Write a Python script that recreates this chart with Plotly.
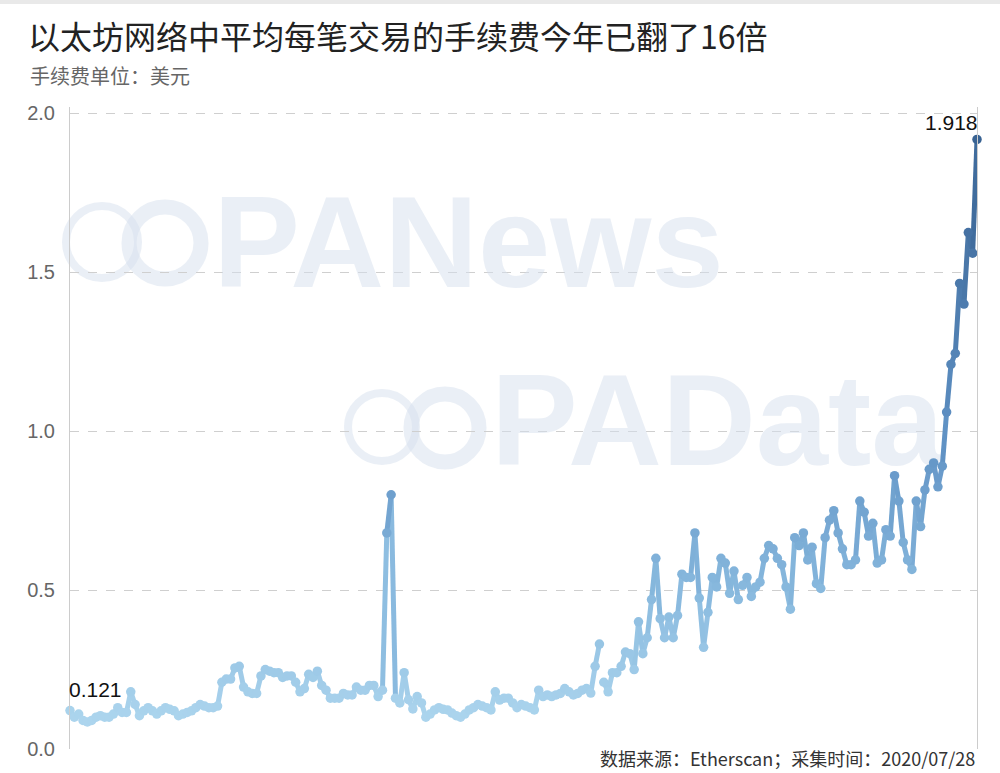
import datetime as dt
import plotly.graph_objects as go
from plotly.colors import sample_colorscale

# ---------------- data ----------------
start_date = dt.date(2020, 1, 1)
fees = [
    0.121, 0.10, 0.11, 0.09, 0.085, 0.09, 0.10, 0.105, 0.10, 0.10,
    0.11, 0.13, 0.115, 0.115, 0.18, 0.14, 0.105, 0.12, 0.13, 0.12,
    0.11, 0.12, 0.13, 0.125, 0.12, 0.105, 0.11, 0.115, 0.12, 0.13,
    0.14, 0.135, 0.13, 0.13, 0.135, 0.21, 0.22, 0.22, 0.255, 0.26,
    0.195, 0.18, 0.175, 0.175, 0.23, 0.25, 0.245, 0.24, 0.24, 0.225,
    0.23, 0.23, 0.21, 0.18, 0.19, 0.235, 0.225, 0.245, 0.20, 0.185,
    0.16, 0.16, 0.16, 0.175, 0.17, 0.17, 0.195, 0.185, 0.185, 0.20,
    0.20, 0.165, 0.185, 0.68, 0.80, 0.16, 0.145, 0.24, 0.155, 0.126,
    0.165, 0.145, 0.10, 0.11, 0.123, 0.13, 0.125, 0.123, 0.113, 0.105,
    0.10, 0.11, 0.123, 0.13, 0.14, 0.135, 0.13, 0.123, 0.18, 0.154,
    0.16, 0.16, 0.145, 0.13, 0.14, 0.135, 0.13, 0.123, 0.185, 0.165,
    0.17, 0.165, 0.17, 0.175, 0.19, 0.18, 0.17, 0.175, 0.185, 0.19,
    0.176, 0.26, 0.33, 0.21, 0.18, 0.24, 0.24, 0.26, 0.305, 0.30,
    0.25, 0.40, 0.30, 0.35, 0.47, 0.60, 0.41, 0.35, 0.415, 0.35,
    0.42, 0.55, 0.54, 0.54, 0.68, 0.475, 0.32, 0.43, 0.54, 0.51,
    0.60, 0.585, 0.49, 0.56, 0.47, 0.515, 0.54, 0.48, 0.51, 0.525,
    0.60, 0.64, 0.63, 0.60, 0.58, 0.51, 0.44, 0.665, 0.64, 0.68,
    0.595, 0.635, 0.52, 0.505, 0.665, 0.72, 0.75, 0.68, 0.63, 0.58,
    0.58, 0.595, 0.78, 0.745, 0.67, 0.71, 0.585, 0.595, 0.69, 0.67,
    0.86, 0.78, 0.65, 0.595, 0.565, 0.78, 0.70, 0.815, 0.88, 0.90,
    0.825, 0.89, 1.06, 1.21, 1.245, 1.465, 1.40, 1.625, 1.56, 1.918,
]
# the line is interrupted after these day indices
line_breaks = [122, 154]

title_text = "以太坊网络中平均每笔交易的手续费今年已翻了16倍"
subtitle_text = "手续费单位：美元"
source_text = "数据来源：Etherscan；采集时间：2020/07/28"
y_ticks = [0, 0.5, 1.0, 1.5, 2.0]
y_tick_text = ["0.0", "0.5", "1.0", "1.5", "2.0"]
watermarks = ["PANews", "PAData"]

dates = [start_date + dt.timedelta(days=i) for i in range(len(fees))]

# ---------------- styling ----------------
cscale = [[0.0, "#b4dbf1"], [0.25, "#88b9de"], [0.5, "#5e90c3"], [1.0, "#365f8f"]]
CMAX = 2.0
FONT = "Liberation Sans, Noto Sans CJK SC, sans-serif"
CJK = "Noto Sans CJK SC, sans-serif"
WM = "rgba(214,223,238,0.5)"


def col(v):
    return sample_colorscale(cscale, [max(0, min(1, v / CMAX))])[0]


fig = go.Figure()

# watermark text (drawn first so it stays beneath the line)
fig.add_trace(go.Scatter(
    x=[dates[33], dates[97]], y=[1.555, 0.995], mode="text",
    text=watermarks, textposition="middle right",
    textfont=dict(family="Liberation Sans, Arial, sans-serif", size=130,
                  color=WM, weight="bold"),
    hoverinfo="skip", showlegend=False, cliponaxis=False,
))

# line segments coloured by value, grouped by colour
groups = {}
for i in range(len(fees) - 1):
    if i in line_breaks:
        continue
    key = round((fees[i] + fees[i + 1]) / 2, 2)
    groups.setdefault(key, []).append(i)
for key, idxs in sorted(groups.items()):
    xs, ys = [], []
    for i in idxs:
        xs += [dates[i], dates[i + 1], None]
        ys += [fees[i], fees[i + 1], None]
    fig.add_trace(go.Scatter(
        x=xs, y=ys, mode="lines",
        line=dict(color=col(key), width=5),
        hoverinfo="skip", showlegend=False, cliponaxis=False,
    ))

fig.add_trace(go.Scatter(
    x=dates, y=fees, mode="markers",
    marker=dict(size=9.5, color=fees, colorscale=cscale, cmin=0, cmax=CMAX,
                line=dict(width=0)),
    showlegend=False, cliponaxis=False,
))

half = dt.timedelta(hours=8.4)
fig.update_xaxes(range=[dates[0] - half, dates[-1] + half], showgrid=False,
                 showticklabels=False, ticks="", zeroline=False, showline=False)
fig.update_yaxes(range=[0, 2.02], tickvals=y_ticks, ticktext=y_tick_text,
                 showgrid=True, gridcolor="#cfcfcf", griddash="dash", gridwidth=1,
                 zeroline=False, showline=True, linecolor="#cccccc", linewidth=1,
                 mirror=True, ticks="", ticklabelstandoff=10,
                 tickfont=dict(family=FONT, size=20, color="#666666"))

annotations = [
    dict(x=-0.0463, y=1.0498, xref="paper", yref="paper", xanchor="left",
         yanchor="middle", text=subtitle_text, showarrow=False,
         font=dict(family=CJK, size=20, color="#666666")),
    dict(x=dates[0], y=fees[0], xref="x", yref="y", xanchor="left",
         yanchor="bottom", xshift=-3, yshift=8, text=f"{fees[0]:.3f}",
         showarrow=False, font=dict(family=FONT, size=21, color="#111111")),
    dict(x=dates[-1], y=fees[-1], xref="x", yref="y", xanchor="right",
         yanchor="bottom", xshift=3, yshift=3, text=f"{fees[-1]:.3f}",
         showarrow=False, font=dict(family=FONT, size=21, color="#111111")),
    dict(x=1.0, y=-24 / 642, xref="paper", yref="paper", xanchor="right",
         yanchor="bottom", text=source_text, showarrow=False,
         font=dict(family=CJK, size=18, color="#333333")),
]

shapes = [
    # thin grey band at very top of the picture
    dict(type="rect", xref="paper", yref="paper", x0=-0.08, x1=1.03,
         y0=(749 - 0) / 642, y1=(749 - 4) / 642, fillcolor="#e9e9e9",
         line=dict(width=0), layer="below"),
]
# watermark logo rings (pixel centres converted to paper coords)
for cx, cy, r, w in [(102, 242, 36, 8), (165, 243, 36, 15),
                     (382, 427, 34, 8), (445, 428, 34, 15)]:
    shapes.append(dict(type="circle", xref="paper", yref="paper",
                       x0=(cx - r - 70) / 907, x1=(cx + r - 70) / 907,
                       y0=(749 - cy - r) / 642, y1=(749 - cy + r) / 642,
                       line=dict(color=WM, width=w), layer="below"))

fig.update_layout(
    width=1000, height=773,
    margin=dict(l=70, r=23, t=107, b=24),
    plot_bgcolor="white", paper_bgcolor="white",
    title=dict(text=title_text, x=0.028, xanchor="left", xref="container",
               y=1 - 38 / 773, yanchor="middle", yref="container",
               font=dict(family=CJK, size=32, color="#222222")),
    annotations=annotations, shapes=shapes, showlegend=False,
    hovermode=False,
)

fig.write_html("out.html", config={"displayModeBar": False},
               post_script="document.body.style.margin='0px';")
